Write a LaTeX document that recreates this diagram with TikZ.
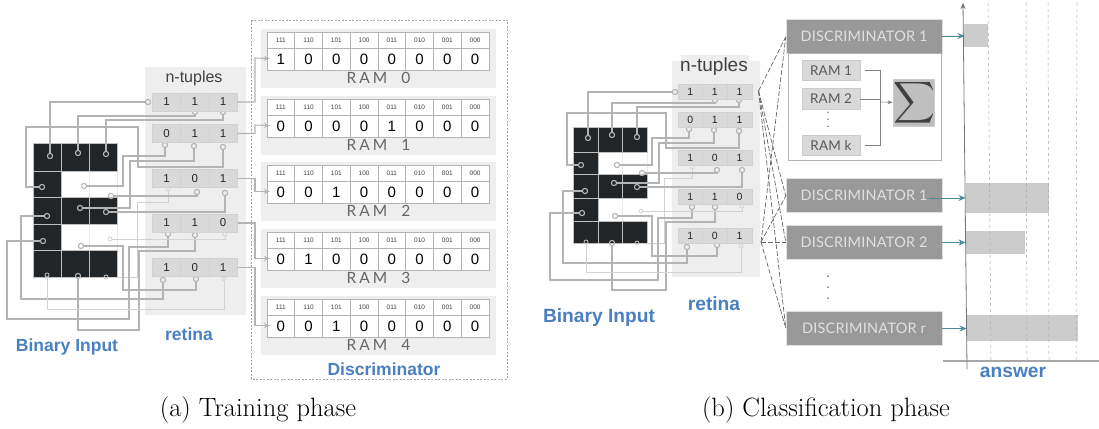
\documentclass[tikz,border=0pt]{standalone}
\usepackage{fontspec}
\usepackage{graphicx}
\usetikzlibrary{arrows.meta}
\newfontfamily\labelfont{Liberation Sans}
\newfontfamily\ramfont[LetterSpace=20]{Lato}
\newfontfamily\discfont[LetterSpace=1.5]{Lato}
\definecolor{panelcolor}{HTML}{EEEEEE}
\definecolor{cellcolor}{HTML}{D9D9D9}
\definecolor{wirecolor}{HTML}{B4B4B4}
\definecolor{lightwirecolor}{HTML}{D2D2D2}
\definecolor{inkcolor}{HTML}{212527}
\definecolor{bluecolor}{HTML}{4A7FC1}
\definecolor{discolor}{HTML}{999999}
\definecolor{barcolor}{HTML}{CCCCCC}
\definecolor{tealcolor}{HTML}{4F8A9B}

\begin{document}
\begin{tikzpicture}[
    x=1pt, y=-1pt,
    panel/.style={fill=panelcolor},
    ink/.style={fill=inkcolor, draw=white!75!black, line width=0.5pt},
    tuplecell/.style={draw=black!18, fill=cellcolor, line width=0.5pt, minimum width=28.3pt, inner sep=0pt, font=\labelfont\fontsize{11.5}{12}\selectfont, text=black!85},
    tuplesmall/.style={tuplecell, minimum width=24.6pt, minimum height=15pt, font=\labelfont\fontsize{10.5}{11}\selectfont},
    pin/.style={circle, draw=wirecolor, line width=1.1pt, minimum size=5.2pt, inner sep=0pt},
    pinlight/.style={circle, draw=lightwirecolor, line width=0.7pt, minimum size=4pt, inner sep=0pt},
    wire/.style={draw=wirecolor, line width=1.1pt},
    wirelight/.style={draw=lightwirecolor, line width=0.7pt},
    wirearrow/.style={wire, -{Stealth[length=6pt, width=5pt]}},
    head/.style={draw=wirecolor, fill=white, line width=0.8pt, minimum width=27.75pt, minimum height=16pt, inner sep=0pt, font=\labelfont\fontsize{6.5}{7}\selectfont, text=black!75},
    bit/.style={draw=wirecolor, fill=white, line width=0.8pt, minimum width=27.75pt, minimum height=22pt, inner sep=0pt, font=\labelfont\fontsize{15}{16}\selectfont},
    ramlabel/.style={font=\ramfont\fontsize{15.5}{16}\selectfont, text=black!60},
    bluelabel/.style={font=\labelfont\bfseries\fontsize{17.5}{18}\selectfont, text=bluecolor},
    bigblue/.style={bluelabel, font=\labelfont\bfseries\fontsize{19.2}{20}\selectfont},
    tuplelabel/.style={font=\labelfont\fontsize{16}{17}\selectfont, text=black!75},
    caption/.style={font=\rmfamily\fontsize{26.5}{30}\selectfont},
    disc/.style={fill=discolor, draw=black!12, line width=0.5pt, minimum width=156pt, minimum height=34pt, inner sep=0pt, font=\discfont\fontsize{14.5}{16}\selectfont, text=black!12},
    ramsmall/.style={fill=cellcolor, draw=black!20, line width=0.6pt, minimum width=58pt, minimum height=20.5pt, inner sep=0pt, font=\discfont\fontsize{13.5}{14}\selectfont, text=black!65},
    fan/.style={draw=black!60, dash pattern=on 5pt off 2pt, line width=0.7pt},
    tealarrow/.style={draw=tealcolor, line width=0.8pt, -{Stealth[length=7pt, width=6pt]}},
    gridline/.style={draw=black!35, dashed, line width=0.5pt},
    bar/.style={fill=barcolor}
]
    \useasboundingbox (0,0) rectangle (1099,428);

    % =========================================================================
    % TRAINING PHASE
    % =========================================================================

    % Backgrounds
    \fill [panel] (145,67) rectangle (246,315);
    \draw [draw=black!35, dash pattern=on 2pt off 1.5pt, line width=0.6pt] (251,20) rectangle (507,379);
    \foreach \i/\y in {0/29, 1/96, 2/162, 3/229, 4/296} {
        \fill [panel] (261,\y) rectangle (496,\y+59);
    }

    % Binary input
    \draw [draw=black!8, line width=0.5pt] (61,171) rectangle (117,250);
    \draw [draw=black!8, line width=0.5pt] (89,171) -- (89,250);
    \foreach \xa/\xb in {33/61, 61/89, 89/117} {
        \draw [ink] (\xa,143) rectangle (\xb,171);
        \draw [ink] (\xa,197) rectangle (\xb,224);
        \draw [ink] (\xa,250) rectangle (\xb,277);
    }
    \draw [ink] (33,171) rectangle (61,197);
    \draw [ink] (33,224) rectangle (61,250);

    % Pins
    \foreach \name/\x/\y in {a_i1/50/156, a_i2/78/153, a_i3/106/154, a_i4/42/187, a_i5/84/186, a_i6/111/196, a_i7/80/208, a_i8/106/212, a_i9/47/216, a_i10/43/241, a_i12/81/246, a_i14/78/276,
        a_p1/148/102, a_p2/195/112, a_p3/223/112, a_p4/165/145, a_p5/194/146, a_p6/223/147, a_p8/197/192, a_p9/225/193, a_p10/168/234, a_p11/195/235, a_p13/163/280, a_p14/196/279} {
        \node (\name) [pin] at (\x,\y) {};
    }
    \foreach \name/\x/\y in {a_i11/110/239, a_i13/47/275, a_i15/106/277, a_p7/168/189, a_p12/225/234, a_p15/224/279} {
        \node (\name) [pinlight] at (\x,\y) {};
    }

    % Wires from the tuples to the input
    \draw [wire] (a_i1) |- (a_p1);
    \draw [wire] (a_i2) |- (195,116) -- (a_p2);
    \draw [wire] (a_i3) |- (223,120) -- (a_p3);
    \draw [wire] (a_p4) |- (123,156) |- (a_i5);
    \draw [wire] (a_p5) |- (130,161) |- (a_i7);
    \draw [wire] (a_p6) |- (138,167) |- (26,127) |- (a_i4);
    \draw [wirelight] (a_p7) |- (137,202) |- (a_i15);
    \draw [wire] (a_p8) |- (a_i6);
    \draw [wire] (a_p9) |- (a_i8);
    \draw [wire] (a_p10) |- (129,247) |- (7,319) |- (a_i10);
    \draw [wire] (a_p11) |- (139,251) |- (78,330) -- (a_i14);
    \draw [wirelight] (a_p12) |- (a_i11);
    \draw [wire] (a_p13) |- (21,299) |- (a_i9);
    \draw [wire] (a_p14) |- (123,290) |- (a_i12);
    \draw [wirelight] (a_p15) |- (47,309) -- (a_i13);

    % Tuples
    \foreach \t/\y/\h/\va/\vb/\vc in {0/102/18/1/1/1, 1/133.5/18/0/1/1, 2/178.5/18/1/0/1, 3/223/18/1/1/0, 4/267.5/18/1/0/1} {
        \node (a_t\t_1) [tuplecell, minimum height=\h pt] at (166.5,\y) {\va};
        \node (a_t\t_2) [tuplecell, minimum height=\h pt] at (194.8,\y) {\vb};
        \node (a_t\t_3) [tuplecell, minimum height=\h pt] at (223.1,\y) {\vc};
    }
    \node (a_ntuples) [tuplelabel] at (194,78) {n-tuples};

    % RAM tables
    \foreach \i/\y/\one in {0/29/1, 1/96/5, 2/162/3, 3/229/2, 4/296/3} {
        \foreach \bits [count=\c] in {111, 110, 101, 100, 011, 010, 001, 000} {
            \node (ram\i_h\c) [head] at (253.1+27.75*\c,\y+11) {\bits};
            \node (ram\i_b\c) [bit] at (253.1+27.75*\c,\y+30) {\ifnum\c=\one\relax 1\else 0\fi};
        }
        \node (ram\i_lbl) [ramlabel] at (378.5,\y+49) {RAM\ \ \i};
        \coordinate (ram\i_in) at (270,\y+29.5);
    }

    % Connections
    \draw [wirearrow] (a_t0_3.east) -| (255,58) -- (ram0_in);
    \draw [wirearrow] (a_t1_3.east) -| (255,125) -- (ram1_in);
    \draw [wirearrow] (a_t2_3.east) -| (255,191.5) -- (ram2_in);
    \draw [wirearrow] (a_t3_3.east) -| (255,258.5) -- (ram3_in);
    \draw [wirearrow] (a_t4_3.east) -| (255,325.5) -- (ram4_in);

    % Labels
    \node (a_input) [bluelabel] at (67,347) {Binary Input};
    \node (a_retina) [bluelabel] at (189,334) {retina};
    \node (a_disc) [bluelabel] at (384,369) {Discriminator};
    \node (a_caption) [caption] at (258,410) {(a) Training phase};


    % =========================================================================
    % CLASSIFICATION PHASE
    % =========================================================================

    % Backgrounds
    \fill [panel] (681,55) rectangle (749,62);
    \fill [panel] (672,61) rectangle (760,277);

    % Binary input
    \draw [draw=black!8, line width=0.5pt] (598,152) rectangle (647,198);
    \draw [draw=black!8, line width=0.5pt] (622,152) -- (622,221);
    \foreach \xa/\xb in {573/598, 598/622, 622/647} {
        \draw [ink] (\xa,127) rectangle (\xb,152);
        \draw [ink] (\xa,174) rectangle (\xb,198);
        \draw [ink] (\xa,221) rectangle (\xb,243);
    }
    \draw [ink] (573,152) rectangle (598,174);
    \draw [ink] (573,198) rectangle (598,221);

    % Pins
    \foreach \name/\x/\y in {b_i1/588/138, b_i2/612/135, b_i3/637/137, b_i4/581/165, b_i5/617/165, b_i6/642/173, b_i7/614/183, b_i8/637/187, b_i9/585/191, b_i10/582/213, b_i12/615/216, b_i14/612/243,
        b_p1/675/92, b_p2/715/100, b_p3/739/100, b_p4/689/129, b_p5/714/130, b_p6/739/131, b_p8/717/170, b_p9/742/170, b_p10/692/207, b_p11/715/207, b_p13/687/247, b_p14/717/245} {
        \node (\name) [pin] at (\x,\y) {};
    }
    \foreach \name/\x/\y in {b_i11/641/211, b_i13/586/242, b_i15/637/243, b_p7/692/167, b_p12/742/206, b_p15/741/246} {
        \node (\name) [pinlight] at (\x,\y) {};
    }

    % Wires from the tuples to the input
    \draw [wire] (b_i1) |- (b_p1);
    \draw [wire] (b_i2) |- (715,103) -- (b_p2);
    \draw [wire] (b_i3) |- (739,107) -- (b_p3);
    \draw [wire] (b_p4) |- (652,138) |- (b_i5);
    \draw [wire] (b_p5) |- (659,143) |- (b_i7);
    \draw [wire] (b_p6) |- (666,148) |- (567,113) |- (b_i4);
    \draw [wirelight] (b_p7) |- (664,178) |- (b_i15);
    \draw [wire] (b_p8) |- (b_i6);
    \draw [wire] (b_p9) |- (b_i8);
    \draw [wire] (b_p10) |- (658,218) |- (550,280) |- (b_i10);
    \draw [wire] (b_p11) |- (666,222) |- (612,290) -- (b_i14);
    \draw [wirelight] (b_p12) |- (b_i11);
    \draw [wire] (b_p13) |- (563,263) |- (b_i9);
    \draw [wire] (b_p14) |- (652,256) |- (b_i12);
    \draw [wirelight] (b_p15) |- (586,272) -- (b_i13);

    % Tuples
    \foreach \t/\y/\va/\vb/\vc in {0/91.5/1/1/1, 1/119.5/0/1/1, 2/158/1/0/1, 3/196.5/1/1/0, 4/235.5/1/0/1} {
        \node (b_t\t_1) [tuplesmall] at (690.3,\y) {\va};
        \node (b_t\t_2) [tuplesmall] at (714.9,\y) {\vb};
        \node (b_t\t_3) [tuplesmall] at (739.5,\y) {\vc};
    }
    \node (b_ntuples) [tuplelabel, font=\labelfont\fontsize{19}{20}\selectfont] at (714,67) {n-tuples};

    % Discriminators
    \node (dis_top) [disc] at (864,36) {DISCRIMINATOR 1};
    \draw [draw=black!30, line width=0.7pt] (788,53) rectangle (941,160);
    \node (dis_1) [disc] at (864,195.5) {DISCRIMINATOR 1};
    \node (dis_2) [disc] at (864,242.5) {DISCRIMINATOR 2};
    \node (dis_r) [disc] at (864,328.5) {DISCRIMINATOR r};

    % RAM block of the first discriminator
    \node (ram_1) [ramsmall] at (831,70.5) {RAM 1};
    \node (ram_2) [ramsmall] at (831,99) {RAM 2};
    \node (ram_k) [ramsmall] at (831,145.5) {RAM k};
    \node (ram_dots) [text=black!70, inner sep=0pt, align=center, font=\bfseries\fontsize{9}{7}\selectfont] at (828,120) {.\\.\\.};
    \node (sigma) [fill=black!25, draw=black!20, line width=1pt, minimum width=37pt, minimum height=43pt, inner sep=0pt, text=black!75] at (914,103) {\scalebox{2.9}{$\displaystyle\sum$}};
    \coordinate (ram_join) at (880,102);
    \draw [draw=black!50, line width=0.6pt] (ram_1.east) ++(5,0) -| (ram_join);
    \draw [draw=black!50, line width=0.6pt] (ram_2.east) -- (ram_2.east -| ram_join);
    \draw [draw=black!50, line width=0.6pt] (ram_k.east) ++(5,0) -| (ram_join);
    \draw [draw=black!50, line width=0.6pt, -{Stealth[length=5pt, width=4pt]}] (ram_join) -- (sigma);
    \node (dis_dots) [text=black!70, inner sep=0pt, align=center, font=\bfseries\fontsize{11}{11}\selectfont] at (828,288) {.\\.\\.};

    % Answer chart
    \fill [bar] (964,24) rectangle (988,47);
    \fill [bar] (966,183) rectangle (1049,213);
    \fill [bar] (966,231) rectangle (1025,254);
    \fill [bar] (967,315) rectangle (1078,341);
    \coordinate (axis_top) at (963,3);
    \coordinate (axis_bot) at (967,369);
    \coordinate (base_l) at (943,361);
    \coordinate (base_r) at (1099,361);
    \draw [gridline] (988,3) -- (991,361);
    \draw [gridline] (1026,3) -- (1027,361);
    \draw [gridline] (1048,3) -- (1049,361);
    \draw [gridline] (1077,3) -- (1076,361);
    \draw [draw=black!35, line width=1.2pt] (base_l) -- (base_r);
    \draw [draw=black!55, line width=0.8pt, -{Stealth[length=6pt, width=5pt]}] (axis_bot) -- (axis_top);

    % Arrows to the chart
    \draw [tealarrow] (dis_top.east) -- (964.5,36);
    \draw [tealarrow] (929,198) -- (965.5,198);
    \draw [tealarrow] (dis_2.east) -- (965.5,242.5);
    \draw [tealarrow] (dis_r.east) -- (966.5,328.5);

    % Fan from the tuples to the discriminators
    \coordinate (fan_a) at (758.5,91);
    \coordinate (fan_b) at (761,242);
    \foreach \to/\y in {dis_top/37, dis_1/196, dis_2/242, dis_r/328} {
        \draw [fan] (fan_a) -- (\to.west |- 0,\y);
        \draw [fan] (fan_b) -- (\to.west |- 0,\y);
    }

    % Labels
    \node (b_input) [bigblue] at (599,318) {Binary Input};
    \node (b_retina) [bigblue] at (714,304) {retina};
    \node (b_answer) [bigblue] at (1013,372) {answer};
    \node (b_caption) [caption] at (826,410) {(b) Classification phase};

\end{tikzpicture}
\end{document}
